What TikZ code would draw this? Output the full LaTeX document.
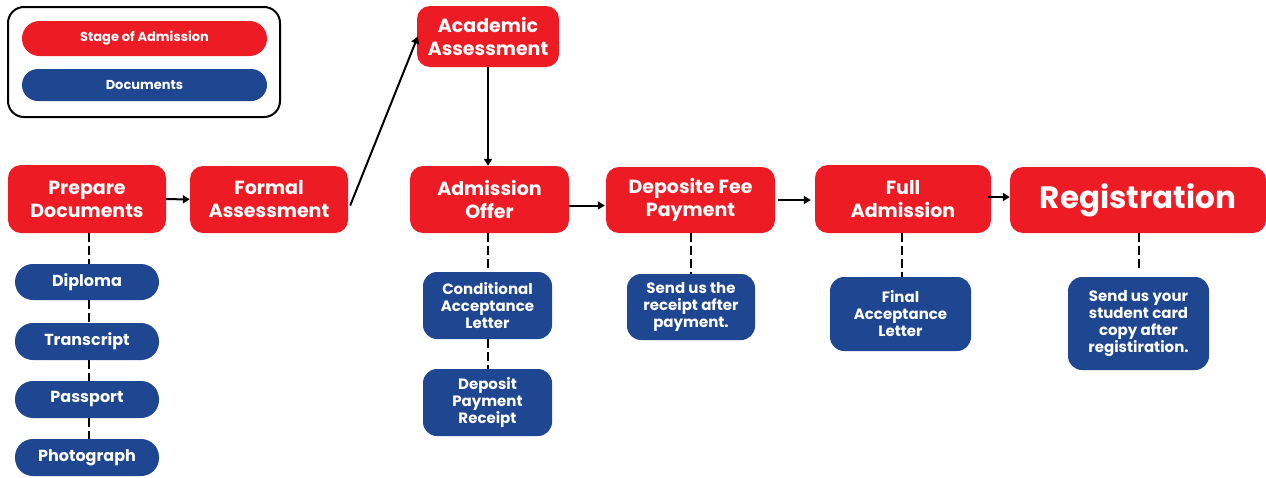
\documentclass[tikz,border=0pt]{standalone}
\usepackage{fontspec}
\setmainfont{Poppins}
\usetikzlibrary{arrows.meta}
\definecolor{stagered}{HTML}{ED1C24}
\definecolor{docblue}{HTML}{1F4690}
\tikzset{
  stage/.style={fill=stagered, text=white, rounded corners=13pt, align=center, inner sep=0pt,
    font=\bfseries\fontsize{19}{23}\selectfont},
  doc/.style={fill=docblue, text=white, rounded corners=14pt, align=center, inner sep=0pt,
    font=\bfseries\fontsize{15}{17}\selectfont},
  pill/.style={doc, rounded corners=18pt, font=\bfseries\fontsize{16}{19}\selectfont},
  arr/.style={line width=2pt, -{Triangle[length=7pt,width=8pt]}},
  dashlink/.style={line width=2pt, dash pattern=on 9pt off 4pt},
}
\begin{document}
\begin{tikzpicture}[x=1pt,y=-1pt]
\useasboundingbox (0,0) rectangle (1266,477);
% legend
\node[draw=black, line width=2pt, rounded corners=16pt, minimum width=272pt, minimum height=110pt, inner sep=0pt] (legend) at (144,62) {};
\node[stage, rounded corners=17.5pt, minimum width=245pt, minimum height=35pt, font=\bfseries\fontsize{13}{15}\selectfont] (lstage) at (144.5,38.5) {Stage of Admission};
\node[doc, rounded corners=16pt, minimum width=245pt, minimum height=32pt, font=\bfseries\fontsize{13}{15}\selectfont] (ldoc) at (144.5,85) {Documents};
% stages
\node[stage, minimum width=158pt, minimum height=68pt] (prep) at (87,199) {Prepare\\Documents};
\node[stage, minimum width=158pt, minimum height=67pt] (formal) at (269,199.5) {Formal\\Assessment};
\node[stage, minimum width=142pt, minimum height=61pt] (acad) at (488,36.5) {Academic\\Assessment};
\node[stage, minimum width=159pt, minimum height=67pt] (offer) at (489.5,199.5) {Admission\\Offer};
\node[stage, minimum width=169pt, minimum height=66pt] (fee) at (690.5,200) {Deposite Fee\\Payment};
\node[stage, minimum width=176pt, minimum height=68pt] (full) at (903,199) {Full\\Admission};
\node[stage, minimum width=256pt, minimum height=66pt, font=\bfseries\fontsize{31}{36}\selectfont] (reg) at (1138,200) {\raisebox{-3pt}{Registration}};
% documents
\node[pill, minimum width=144pt, minimum height=36pt] (dip) at (87,282) {Diploma};
\node[pill, minimum width=144pt, minimum height=37pt] (trans) at (87,341.5) {Transcript};
\node[pill, minimum width=144pt, minimum height=37pt] (pass) at (87,399.5) {Passport};
\node[pill, minimum width=144pt, minimum height=37pt] (photo) at (87,457.5) {Photograph};
\node[doc, minimum width=129pt, minimum height=67pt] (cond) at (487.5,305.5) {Conditional\\Acceptance\\Letter};
\node[doc, minimum width=129pt, minimum height=67pt] (depr) at (487.5,402.5) {Deposit\\Payment\\Receipt};
\node[doc, minimum width=128pt, minimum height=66pt] (sendr) at (691,307) {Send us the\\receipt after\\payment.};
\node[doc, minimum width=141pt, minimum height=74pt] (final) at (900.5,314) {Final\\Acceptance\\Letter};
\node[doc, minimum width=141pt, minimum height=93pt] (card) at (1138.5,323.5) {Send us your\\student card\\copy after\\registiration.};
% arrows
\draw[arr] (prep) -- (formal);
\draw[arr] ([shift={(2pt,-6pt)}]formal.east) -- ([xshift=1pt]acad.west);
\draw[arr] (acad.south) -- (acad.south |- offer.north);
\draw[arr] ([yshift=-6pt]offer.east) -- ([shift={(-1pt,-6pt)}]offer.east -| fee.west);
\draw[arr, shorten <=3pt, shorten >=4pt] (fee) -- (fee -| full.west);
\draw[arr, shorten <=-3pt] ([yshift=2pt]full.east) -- ([yshift=2pt]full.east -| reg.west);
% dashed links
\draw[dashlink] ([xshift=2pt]prep.south) -- ([xshift=2pt]prep.south |- dip.north);
\draw[dashlink] ([xshift=2pt]dip.south) -- ([xshift=2pt]dip.south |- trans.north);
\draw[dashlink] ([xshift=2pt]trans.south) -- ([xshift=2pt]trans.south |- pass.north);
\draw[dashlink] ([xshift=2pt]pass.south) -- ([xshift=2pt]pass.south |- photo.north);
\draw[dashlink] (cond.north |- offer.south) -- (cond.north);
\draw[dashlink] (cond.south) -- (depr.north);
\draw[dashlink] (sendr.north |- fee.south) -- (sendr.north);
\draw[dashlink] ([xshift=1pt]final.north |- full.south) -- ([xshift=1pt]final.north);
\draw[dashlink, shorten >=5pt] (card.north |- reg.south) -- (card.north);
\end{tikzpicture}
\end{document}
